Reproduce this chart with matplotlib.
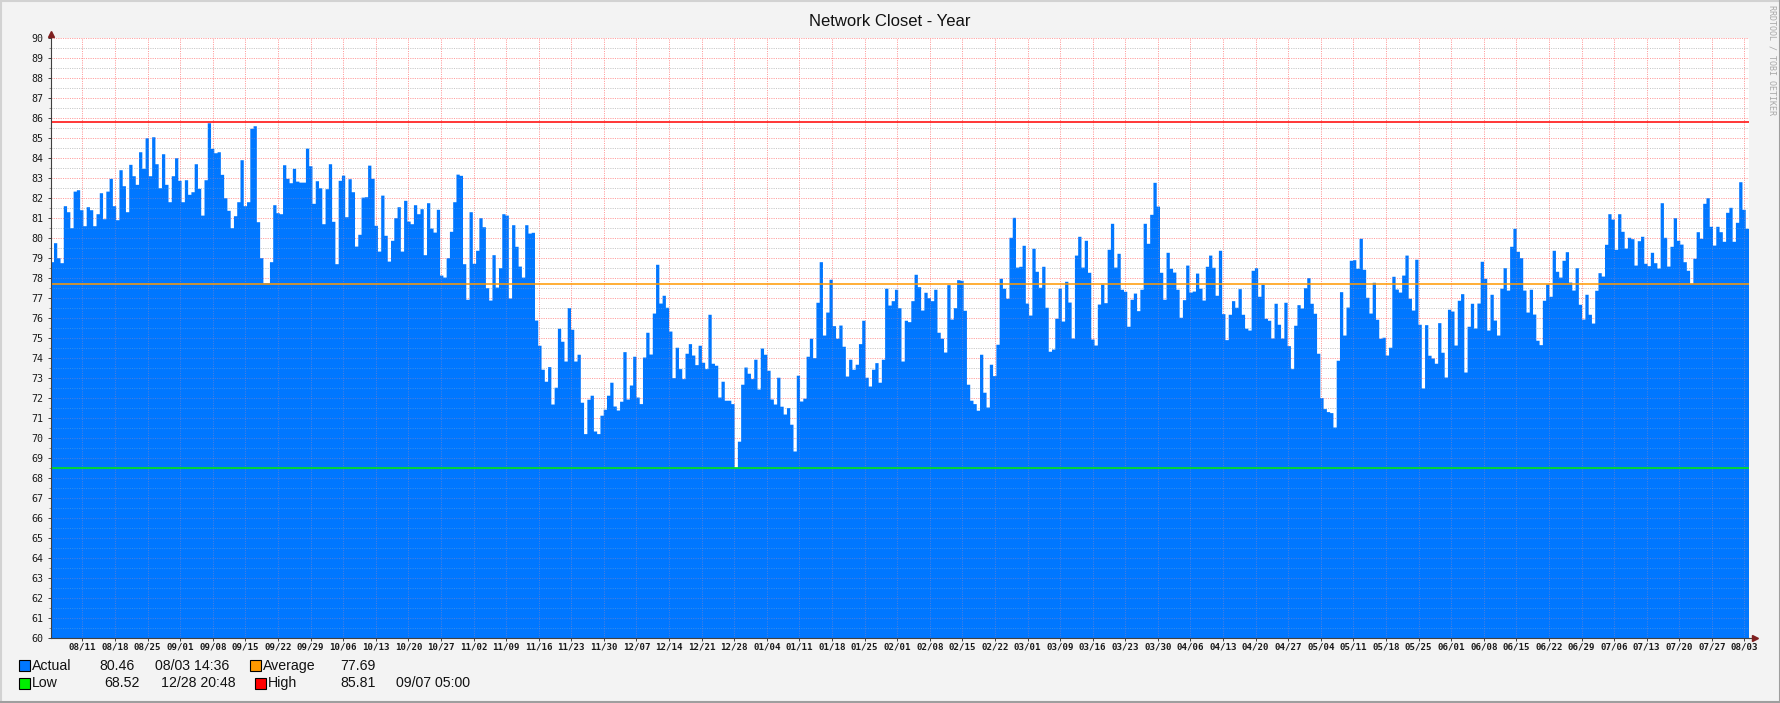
import numpy as np
import matplotlib.pyplot as plt
from matplotlib.lines import Line2D
from matplotlib.patches import Rectangle

plt.rcParams['font.family'] = ['DejaVu Sans Mono']

W_PX, H_PX = 1781, 703

# temperature readings left to right (about 3.3 px per sample)
temps_aug_oct = [
    78.8, 79.75, 79.0, 78.75, 81.6, 81.3, 80.5, 82.33, 82.4, 81.4,
    80.6, 81.55, 81.4, 80.6, 81.2, 82.25, 80.95, 82.33, 82.97, 81.6,
    80.9, 83.4, 82.6, 81.3, 83.67, 83.1, 82.67, 84.3, 83.47, 85.0,
    83.1, 85.05, 83.7, 82.5, 84.2, 82.67, 81.8, 83.1, 84.0, 82.87,
    81.8, 82.9, 82.17, 82.3, 83.7, 82.47, 81.13, 82.9, 85.75, 84.47,
    84.25, 84.3, 83.17, 82.0, 81.37, 80.5, 81.1, 81.8, 83.9, 81.6,
    81.8, 85.47, 85.6, 80.8, 79.0, 77.75, 77.75, 78.8, 81.65, 81.25,
    81.2, 83.65, 82.97, 82.75, 83.47, 82.83, 82.78, 82.78, 84.48, 83.6,
    81.72, 82.85, 82.5, 80.7, 82.45, 83.7, 80.82, 78.7, 82.87, 83.13,
    81.05, 82.95, 82.3, 79.58, 80.17, 82.03, 82.05, 83.63, 82.97, 80.62,
    79.33, 82.13, 80.12, 78.83, 79.87, 81.0, 81.55, 79.33, 81.87, 80.83,
    80.7, 81.65, 81.2, 81.45, 79.15, 81.75, 80.48, 80.28, 81.42, 78.13,
    78.03, 79.0, 80.32, 81.8, 83.18, 83.12, 78.7, 76.92, 81.3, 78.72,
    79.37, 81.0,
]
temps_nov_jan = [
    80.55, 77.5, 76.88, 79.15, 77.53, 78.5, 81.2, 81.13, 76.98, 80.65,
    79.57, 78.58, 78.03, 80.65, 80.23, 80.27, 75.88, 74.62, 73.42, 72.82,
    73.55, 71.68, 72.52, 75.47, 74.82, 73.83, 76.5, 75.42, 73.83, 74.17,
    71.77, 70.2, 71.92, 72.12, 70.33, 70.2, 71.12, 71.42, 72.12, 72.77,
    71.58, 71.38, 71.82, 74.3, 71.93, 72.63, 74.07, 72.03, 71.7, 74.03,
    75.27, 74.18, 76.23, 78.67, 76.73, 77.12, 76.52, 75.33, 73.0, 74.52,
    73.45, 72.95, 74.22, 74.7, 74.13, 73.65, 74.62, 73.77, 73.45, 76.17,
    73.72, 73.62, 72.03, 72.82, 71.87, 71.87, 71.7, 68.53, 69.82, 72.67,
    73.53, 73.22, 72.95, 73.92, 72.43, 74.48, 74.17, 73.37, 71.93, 71.68,
    73.02, 71.57, 71.18, 71.5, 70.67, 69.33, 73.12, 71.83, 71.97, 74.07,
    74.97, 74.0, 76.77, 78.8, 75.13, 76.28, 77.92, 75.6, 74.97, 75.63,
    74.57, 73.08, 73.92, 73.42, 73.67, 74.7, 75.87, 73.02, 72.58, 73.42,
    73.75, 72.77, 73.92, 77.47, 76.63, 76.85, 77.42, 76.5, 73.83, 75.87,
    75.8, 76.85, 78.17,
]
temps_feb_apr = [
    77.55, 76.38, 77.27, 77.0, 76.85, 77.42, 75.27, 74.97, 74.28, 77.65,
    75.93, 76.5, 77.9, 77.87, 76.37, 72.67, 71.87, 71.7, 71.37, 74.17,
    72.27, 71.53, 73.67, 73.1, 74.67, 77.97, 77.47, 76.97, 80.02, 81.02,
    78.53, 78.57, 79.62, 76.73, 76.13, 79.47, 78.32, 77.52, 78.57, 76.52,
    74.32, 74.43, 75.97, 77.47, 75.83, 77.82, 76.78, 74.98, 79.13, 80.07,
    78.53, 79.87, 78.27, 74.93, 74.63, 76.68, 77.67, 76.75, 79.42, 80.72,
    78.53, 79.22, 77.42, 77.32, 75.57, 76.92, 77.23, 76.35, 77.42, 80.72,
    79.72, 81.17, 82.77, 81.58, 78.27, 76.92, 79.27, 78.47, 78.28, 77.42,
    76.02, 76.9, 78.63, 77.28, 77.33, 78.23, 77.47, 76.88, 78.57, 79.13,
    78.52, 77.12, 79.37, 76.2, 74.9, 76.17, 76.85, 76.52, 77.45, 76.17,
    75.47, 75.38, 78.37, 78.5, 77.07, 77.67, 75.97, 75.87, 74.98, 76.72,
    75.67, 74.98, 76.77, 74.6, 73.45, 75.62, 76.65, 76.48, 77.5, 78.0,
    76.72, 76.22, 74.22, 72.0, 71.45, 71.3, 71.25, 70.53, 73.87, 77.3,
    75.13, 76.53, 78.87,
]
temps_may_aug = [
    78.9, 78.47, 79.97, 78.42, 77.02, 76.23, 77.77, 75.92, 74.97, 75.02,
    74.13, 74.52, 78.07, 77.43, 77.28, 78.13, 79.13, 76.97, 76.38, 78.92,
    75.67, 72.48, 75.65, 74.12, 73.98, 73.72, 75.75, 74.27, 73.03, 76.42,
    76.33, 74.63, 76.87, 77.2, 73.28, 75.57, 76.72, 75.48, 76.73, 78.82,
    77.97, 75.38, 77.17, 75.88, 75.13, 77.47, 78.5, 77.38, 79.57, 80.47,
    79.32, 79.0, 77.38, 76.28, 77.42, 76.18, 74.87, 74.65, 76.87, 77.68,
    77.07, 79.37, 78.32, 78.03, 78.87, 79.3, 77.78, 77.38, 78.5, 76.67,
    75.93, 77.17, 76.17, 75.73, 77.37, 78.25, 78.08, 79.67, 81.2, 80.93,
    79.42, 81.2, 80.32, 79.48, 80.02, 79.95, 78.63, 79.85, 80.07, 78.72,
    78.6, 79.27, 78.75, 78.48, 81.75, 80.02, 78.58, 79.57, 81.0, 79.87,
    79.68, 78.8, 78.37, 77.73, 78.97, 80.3, 79.97, 81.72, 82.0, 80.57,
    79.63, 80.57, 80.3, 79.82, 81.27, 81.52, 79.82, 80.77, 82.8, 81.42,
    80.47,
]

week_labels = [
    '08/11', '08/18', '08/25', '09/01', '09/08', '09/15', '09/22', '09/29',
    '10/06', '10/13', '10/20', '10/27', '11/02', '11/09', '11/16', '11/23',
    '11/30', '12/07', '12/14', '12/21', '12/28', '01/04', '01/11', '01/18',
    '01/25', '02/01', '02/08', '02/15', '02/22', '03/01', '03/09', '03/16',
    '03/23', '03/30', '04/06', '04/13', '04/20', '04/27', '05/04', '05/11',
    '05/18', '05/25', '06/01', '06/08', '06/15', '06/22', '06/29', '07/06',
    '07/13', '07/20', '07/27', '08/03',
]

ACTUAL, ACTUAL_AT = 80.46, '08/03 14:36'
AVERAGE = 77.69
LOW, LOW_AT = 68.52, '12/28 20:48'
HIGH, HIGH_AT = 85.81, '09/07 05:00'

BLUE = '#0077FF'
ORANGE = '#FF9900'
GREEN = '#00EE00'
RED = '#FF0000'

temps = np.array(temps_aug_oct + temps_nov_jan + temps_feb_apr + temps_may_aug)
span_days = 364.8
edges = np.linspace(0, span_days, len(temps) + 1)


def fx(px):
    return px / W_PX


def fy(py):
    return 1 - py / H_PX


fig = plt.figure(figsize=(W_PX / 100, H_PX / 100), dpi=100, facecolor='#F3F3F3')
ax = fig.add_axes([fx(50.7), fy(638), fx(1749) - fx(50.7), fy(38.3) - fy(638)])
ax.set_facecolor('white')

ax.stairs(temps, edges, baseline=60, fill=True, color=BLUE, lw=0, zorder=1)
ax.axhline(HIGH, color=RED, lw=1.1, zorder=3)
ax.axhline(AVERAGE, color=ORANGE, lw=1.1, zorder=3)
ax.axhline(LOW, color=GREEN, lw=1.1, zorder=3)

ax.set_xlim(0, span_days)
ax.set_ylim(60, 90)

week_pos = 6.83 + 7 * np.arange(len(week_labels))
ax.set_xticks(week_pos)
ax.set_xticklabels(week_labels)
ax.set_yticks(np.arange(60, 91))
ax.set_yticks(np.arange(60.5, 90, 1), minor=True)

# grid under the area, plus a faint copy over it
dots = (0, (1, 1.3))
ax.set_axisbelow(True)
ax.grid(which='major', color='#FF0000', alpha=0.35, lw=0.72, ls=dots)
ax.grid(which='minor', axis='y', color='#777777', alpha=0.35, lw=0.72, ls=dots)
for xv in week_pos:
    ax.axvline(xv, color='#FF9090', alpha=0.3, lw=0.72, ls=dots, zorder=2)
for yv in ax.get_yticks():
    ax.axhline(yv, color='#FF9090', alpha=0.3, lw=0.72, ls=dots, zorder=2)
for yv in ax.get_yticks(minor=True):
    ax.axhline(yv, color='#BBBBBB', alpha=0.3, lw=0.72, ls=dots, zorder=2)

for s in ['top', 'right']:
    ax.spines[s].set_visible(False)
for s in ['left', 'bottom']:
    ax.spines[s].set_color('#404040')
    ax.spines[s].set_linewidth(0.8)
    ax.spines[s].set_zorder(4)

ax.tick_params(axis='y', which='major', length=2.5, width=0.7, color='#404040',
               pad=2.5, labelsize=7.2, labelcolor='#1A1A1A')
ax.tick_params(axis='y', which='minor', length=1.5, width=0.6, color='#808080')
ax.tick_params(axis='x', which='major', length=2, width=0.7, color='#404040',
               pad=1.5, labelsize=6.6, labelcolor='#1A1A1A')
for lbl in ax.get_xticklabels():
    lbl.set_fontweight('bold')

# axis arrows
fig.add_artist(Line2D([fx(50.7)], [fy(33.5)], marker='^', ms=5, color='#7F1F1F', lw=0))
fig.add_artist(Line2D([fx(1749), fx(1753)], [fy(638), fy(638)], color='#404040', lw=0.8))
fig.add_artist(Line2D([fx(1755)], [fy(638)], marker='>', ms=5, color='#7F1F1F', lw=0))

fig.text(fx(890.2), fy(21.7), 'Network Closet - Year', ha='center', va='center',
         fontsize=12, family='Liberation Sans', color='#111111')
fig.text(fx(1772), fy(5), 'RRDTOOL / TOBI OETIKER', rotation=270, ha='center', va='top',
         fontsize=6, color='#A8A8A8')

# legend
legend_rows = [
    (665.7, [(19, BLUE, 'Actual', 32.3), (250, ORANGE, 'Average', 263)]),
    (683.3, [(19, GREEN, 'Low', 32.3), (255, RED, 'High', 268)]),
]
for y, items in legend_rows:
    for sx, col, name, tx in items:
        fig.add_artist(Rectangle((fx(sx), fy(y + 5.5)), 11 / W_PX, 11 / H_PX,
                                 facecolor=col, edgecolor='black', lw=0.8,
                                 transform=fig.transFigure))
        fig.text(fx(tx), fy(y), name, ha='left', va='center', fontsize=10.2,
                 family='Liberation Sans', color='#111111')

legend_values = [
    (99, 665.7, f'{ACTUAL:.2f}'), (155, 665.7, ACTUAL_AT), (340, 665.7, f'{AVERAGE:.2f}'),
    (104, 683.3, f'{LOW:.2f}'), (161, 683.3, LOW_AT), (340, 683.3, f'{HIGH:.2f}'),
    (396, 683.3, HIGH_AT),
]
for x, y, s in legend_values:
    fig.text(fx(x), fy(y), s, ha='left', va='center', fontsize=10.2,
             family='Liberation Sans', color='#111111')

# 3d frame around the image
fig.add_artist(Line2D([0, 1], [fy(1), fy(1)], color='#D2D2D2', lw=1.5))
fig.add_artist(Line2D([fx(1), fx(1)], [0, 1], color='#D2D2D2', lw=1.5))
fig.add_artist(Line2D([0, 1], [fy(702), fy(702)], color='#9E9E9E', lw=1.5))
fig.add_artist(Line2D([fx(1780), fx(1780)], [0, 1], color='#9E9E9E', lw=1.5))

fig.savefig('out.png', dpi=100, facecolor=fig.get_facecolor())
